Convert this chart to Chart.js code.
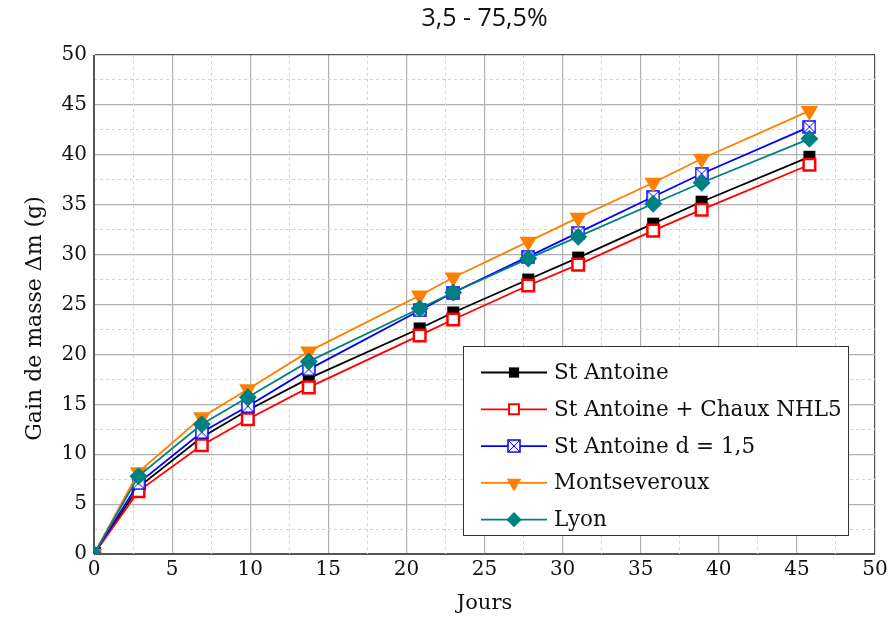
<!DOCTYPE html>
<html>
<head>
<meta charset="utf-8">
<script src="https://cdn.jsdelivr.net/npm/chart.js@4"></script>
<style>
  html, body { margin: 0; padding: 0; background: #fff; }
  #wrap { width: 890px; height: 619px; }
</style>
</head>
<body>
<div id="wrap"><canvas id="myChart" width="890" height="619"></canvas></div>
<script>
const jours = [0, 2.85, 6.9, 9.85, 13.75, 20.85, 23, 27.8, 31, 35.8, 38.9, 45.8];
const stAntoine = [0, 6.7, 11.7, 14.4, 17.6, 22.6, 24.2, 27.5, 29.7, 33.1, 35.3, 39.8];
const stAntoineChaux = [0, 6.3, 10.9, 13.5, 16.7, 21.9, 23.5, 26.9, 29.0, 32.4, 34.5, 39.0];
const stAntoineD15 = [0, 7.1, 12.2, 14.8, 18.5, 24.4, 26.2, 29.8, 32.2, 35.8, 38.1, 42.8];
const montseveroux = [0, 8.2, 13.7, 16.5, 20.3, 25.9, 27.7, 31.3, 33.7, 37.2, 39.6, 44.4];
const lyon = [0, 7.8, 13.0, 15.7, 19.3, 24.6, 26.2, 29.6, 31.8, 35.1, 37.2, 41.6];
const tickLabelsX = ["0", "5", "10", "15", "20", "25", "30", "35", "40", "45", "50"];

const serif = "'DejaVu Serif', 'Liberation Serif', serif";

// square with a cross, for the "d = 1,5" series
function crossSquare(size) {
  const c = document.createElement("canvas");
  c.width = size; c.height = size;
  const g = c.getContext("2d");
  g.fillStyle = "#fff";
  g.fillRect(1, 1, size - 2, size - 2);
  g.strokeStyle = "#0000ff";
  g.lineWidth = 1.5;
  g.strokeRect(1, 1, size - 2, size - 2);
  g.lineWidth = 1;
  g.beginPath();
  g.moveTo(2, 2); g.lineTo(size - 2, size - 2);
  g.moveTo(size - 2, 2); g.lineTo(2, size - 2);
  g.stroke();
  return c;
}

function pts(ys) {
  return ys.map((y, i) => ({ x: jours[i], y: y }));
}

const series = [
  { label: "St Antoine", data: stAntoine, color: "#000000", style: "rect", fill: "#000000", radius: 8.5, bw: 0, order: 5 },
  { label: "St Antoine + Chaux NHL5", data: stAntoineChaux, color: "#ff0000", style: "rect", fill: "#ffffff", radius: 8.2, bw: 2.5, order: 4 },
  { label: "St Antoine d = 1,5", data: stAntoineD15, color: "#0000ff", style: crossSquare(14), fill: "#ffffff", radius: 7, bw: 0, order: 3 },
  { label: "Montseveroux", data: montseveroux, color: "#ff8000", style: "triangle", fill: "#ff8000", radius: 10, bw: 0, rot: 180, order: 2 },
  { label: "Lyon", data: lyon, color: "#008080", style: "rectRot", fill: "#008080", radius: 9, bw: 0, order: 1 },
];

const datasets = series.map((s) => ({
  label: s.label,
  data: pts(s.data),
  borderColor: s.color,
  backgroundColor: s.fill,
  borderWidth: 1.8,
  pointStyle: s.style,
  pointRadius: s.radius,
  pointHoverRadius: s.radius,
  pointBorderWidth: s.bw,
  pointBorderColor: s.color,
  pointBackgroundColor: s.fill,
  pointRotation: s.rot || 0,
  order: s.order,
  tension: 0,
}));

// legend box drawn inside the plot
const boxLegend = {
  id: "boxLegend",
  afterDatasetsDraw(chart) {
    const { ctx, chartArea } = chart;
    const w = 385, h = 189;
    const x0 = chartArea.right - 27 - w;
    const y0 = chartArea.bottom - 19 - h;
    ctx.save();
    ctx.fillStyle = "#ffffff";
    ctx.fillRect(x0, y0, w, h);
    ctx.strokeStyle = "#333";
    ctx.lineWidth = 1;
    ctx.strokeRect(x0 + 0.5, y0 + 0.5, w, h);
    ctx.font = "21.5px " + serif;
    ctx.textBaseline = "middle";
    series.forEach((s, i) => {
      const cy = y0 + 26.5 + i * 36.8;
      ctx.strokeStyle = s.color;
      ctx.lineWidth = 1.8;
      ctx.beginPath();
      ctx.moveTo(x0 + 18, cy);
      ctx.lineTo(x0 + 84, cy);
      ctx.stroke();
      ctx.fillStyle = s.fill;
      ctx.lineWidth = s.bw ? 2 : 0;
      Chart.helpers.drawPoint(ctx, {
        pointStyle: s.style,
        radius: s.radius * 0.85,
        rotation: s.rot || 0,
        borderWidth: s.bw ? 2 : 0,
      }, x0 + 51, cy);
      ctx.fillStyle = "#111";
      ctx.fillText(s.label, x0 + 91, cy + 1);
    });
    ctx.restore();
  },
};

const majorColor = (c) => (c.tick && (c.tick.value === 0 || c.tick.value === 50) ? "#555" : "#b0b0b0");
const minorColor = (c) => (c.tick && c.tick.value % 5 === 0 ? "rgba(0,0,0,0)" : "#d4d4d4");

const ctx = document.getElementById("myChart");
new Chart(ctx, {
  type: "line",
  data: { datasets: datasets },
  options: {
    responsive: false,
    animation: false,
    events: [],
    layout: { padding: { left: 0, right: 15, top: 0, bottom: 0 } },
    plugins: {
      legend: { display: false },
      tooltip: { enabled: false },
      title: {
        display: true,
        text: "3,5 - 75,5%",
        fullSize: false,
        color: "#111",
        font: { family: "'Open Sans', 'Noto Sans', sans-serif", size: 25, weight: "normal" },
        padding: { top: 4, bottom: 21 },
      },
    },
    scales: {
      x: {
        type: "linear",
        position: "bottom",
        min: 0,
        max: 50,
        afterFit: (s) => { s.height = 65; s.paddingLeft = 0; s.paddingRight = 0; },
        ticks: {
          stepSize: 5,
          color: "#111",
          padding: 4,
          font: { family: serif, size: 20 },
          callback: (v) => tickLabelsX[Math.round(v / 5)],
        },
        grid: { color: majorColor, lineWidth: 1.2, drawTicks: false },
        border: { display: true, color: "#555", width: 1 },
        title: { display: true, text: "Jours", color: "#111", font: { family: serif, size: 21 }, padding: { top: 0, bottom: 3 } },
      },
      y: {
        type: "linear",
        position: "left",
        min: 0,
        max: 50,
        afterFit: (s) => { s.width = 94; },
        ticks: { stepSize: 5, color: "#111", padding: 7, font: { family: serif, size: 20 } },
        grid: { color: majorColor, lineWidth: 1.2, drawTicks: false },
        border: { display: true, color: "#555", width: 1 },
        title: { display: true, text: "Gain de masse Δm (g)    ", color: "#111", font: { family: serif, size: 22 }, padding: { top: 22, bottom: 0 } },
      },
      x2: {
        type: "linear",
        position: "top",
        min: 0,
        max: 50,
        afterFit: (s) => { s.height = 0; s.paddingLeft = 0; s.paddingRight = 0; },
        ticks: { stepSize: 2.5, display: false },
        grid: { color: minorColor, lineWidth: 1, drawTicks: false },
        border: { display: false, dash: [3, 3] },
      },
      y2: {
        type: "linear",
        position: "right",
        min: 0,
        max: 50,
        afterFit: (s) => { s.width = 0; },
        ticks: { stepSize: 2.5, display: false },
        grid: { color: minorColor, lineWidth: 1, drawTicks: false },
        border: { display: false, dash: [3, 3] },
      },
    },
  },
  plugins: [boxLegend],
});
</script>
</body>
</html>
